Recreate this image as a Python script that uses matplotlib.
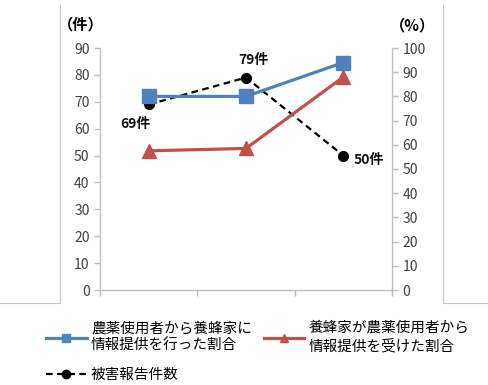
import matplotlib.pyplot as plt
from matplotlib.lines import Line2D

plt.rcParams['font.family'] = ['Noto Sans CJK JP', 'DejaVu Sans']

# data
positions = [1, 2, 3]
damage_counts = [69, 79, 50]            # 件 (left axis)
info_given = [80, 80, 94]               # % (right axis)
info_received = [57.5, 58.5, 88]        # % (right axis)
count_labels = ['69件', '79件', '50件']

label_given = '農薬使用者から養蜂家に\n情報提供を行った割合'
label_received = '養蜂家が農薬使用者から\n情報提供を受けた割合'
label_count = '被害報告件数'

blue = '#4F81BD'
red = '#C0504D'
gray = '#BFBFBF'
tick_col = '#404040'

fig = plt.figure(figsize=(4.89, 3.85), dpi=100)
ax = fig.add_axes([100/489, 1 - 290/385, 292/489, 242/385])
ax2 = ax.twinx()

l3, = ax.plot(positions, damage_counts, color='black', linestyle='--', linewidth=1.6,
              marker='o', markersize=7, dashes=(3, 2))
l1, = ax2.plot(positions, info_given, color=blue, linewidth=2.3,
               marker='s', markersize=9.5)
l2, = ax2.plot(positions, info_received, color=red, linewidth=2.3,
               marker='^', markersize=10)

ax.set_xlim(0.5, 3.5)
ax.set_ylim(0, 90)
ax2.set_ylim(0, 100)
ax.set_yticks(range(0, 91, 10))
ax2.set_yticks(range(0, 101, 10))
ax.set_xticks([0.5, 1.5, 2.5, 3.5])
ax.set_xticklabels([])

for a in (ax, ax2):
    for s in a.spines.values():
        s.set_visible(False)
    a.tick_params(colors=gray, labelcolor=tick_col, labelsize=10, length=4, width=1)
ax.spines['left'].set_visible(True)
ax.spines['bottom'].set_visible(True)
ax2.spines['right'].set_visible(True)
for s in (ax.spines['left'], ax.spines['bottom'], ax2.spines['right']):
    s.set_color(gray)
    s.set_linewidth(1)

# data labels
offsets = [(-9.5, -14), (5, 12.5), (18.5, -3.2)]
for x, y, t, (dx, dy) in zip(positions, damage_counts, count_labels, offsets):
    ax.annotate(t, (x, y), xytext=(dx, dy), textcoords='offset points',
                ha='center', va='center', fontsize=10, fontweight='bold', color='#111111')

# unit labels
fig.text(81/489, 1 - 24/385, '（件）', ha='center', va='center', fontsize=11, fontweight='bold')
fig.text(413/489, 1 - 25/385, '（%）', ha='center', va='center', fontsize=11, fontweight='bold')

# frame lines
frame = [([60, 60], [5, 303]), ([0, 60], [303, 303]),
         ([443, 443], [5, 303]), ([443, 489], [303, 303])]
for xs, ys in frame:
    fig.add_artist(Line2D([x/489 for x in xs], [1 - y/385 for y in ys],
                          color='#C8C8C8', linewidth=0.8))

leg = fig.legend([l1, l3, l2], [label_given, label_count, label_received],
                 ncol=2, loc='upper left', bbox_to_anchor=(40/489, 1 - 315/385),
                 frameon=False, fontsize=10.5, handlelength=2.8, columnspacing=0.8,
                 handletextpad=0.3, labelspacing=1.05, borderaxespad=0)
for h in leg.legend_handles:
    h.set_markersize(6)
for t in leg.get_texts():
    t.set_linespacing(1.35)

fig.savefig('out.png', dpi=100)
